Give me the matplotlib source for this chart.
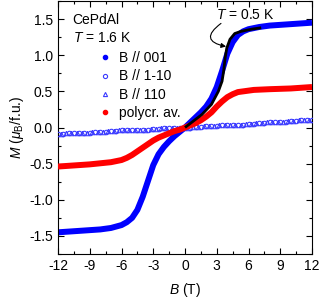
import matplotlib
matplotlib.use('Agg')
import matplotlib.pyplot as plt
import numpy as np
from matplotlib.lines import Line2D

plt.rcParams['font.family'] = ['Liberation Sans', 'DejaVu Sans']
plt.rcParams['font.size'] = 10
plt.rcParams['mathtext.fontset'] = 'custom'
plt.rcParams['mathtext.rm'] = 'Liberation Sans'
plt.rcParams['mathtext.it'] = 'Liberation Sans:italic'
plt.rcParams['axes.unicode_minus'] = False

# B // 001 at T = 1.6 K
b_001 = [-12, -10, -8, -7, -6, -5.5, -5, -4.5, -4, -3.5, -3, -2.5, -2, -1.5, -1, -0.5,
         0, 0.5, 1, 1.5, 2, 2.5, 3, 3.5, 4, 4.5, 5, 5.5, 6, 7, 8, 10, 12]
m_001 = [-1.45, -1.43, -1.41, -1.39, -1.35, -1.31, -1.25, -1.14, -0.96, -0.74, -0.52, -0.37,
         -0.27, -0.19, -0.12, -0.06,
         0.0, 0.07, 0.14, 0.21, 0.29, 0.40, 0.56, 0.78, 1.02, 1.18, 1.28, 1.33, 1.36, 1.39,
         1.41, 1.43, 1.45]

# B // 1-10 and B // 110
b_1m10 = np.arange(-12, 12.01, 0.5)
m_1m10 = [-0.09, -0.09, -0.08, -0.08, -0.07, -0.07, -0.07, -0.06, -0.06, -0.06, -0.05, -0.05,
          -0.04, -0.04, -0.04, -0.03, -0.03, -0.03, -0.02, -0.02, -0.01, -0.01, -0.01, 0.00,
          0.00, 0.00, 0.01, 0.01, 0.02, 0.02, 0.02, 0.03, 0.03, 0.04, 0.04, 0.04, 0.05, 0.05,
          0.06, 0.06, 0.07, 0.07, 0.08, 0.08, 0.09, 0.09, 0.10, 0.10, 0.11]
b_110 = np.arange(-11.75, 11.76, 0.5)
m_110 = [-0.09, -0.08, -0.08, -0.07, -0.07, -0.07, -0.06, -0.06, -0.06, -0.05, -0.05, -0.04,
         -0.04, -0.04, -0.03, -0.03, -0.03, -0.02, -0.02, -0.01, -0.01, -0.01, 0.00, 0.00,
         0.00, 0.01, 0.01, 0.02, 0.02, 0.02, 0.03, 0.03, 0.04, 0.04, 0.04, 0.05, 0.05, 0.06,
         0.06, 0.07, 0.07, 0.08, 0.08, 0.09, 0.09, 0.10, 0.10, 0.11]

# polycrystalline average
b_poly = [-12, -9, -7, -6, -5.5, -5, -4.5, -4, -3.5, -3, -2.5, -2, -1.5, -1, -0.5, 0,
          0.5, 1, 1.5, 2, 2.5, 3, 3.5, 4, 4.5, 5, 5.5, 6.5, 8, 10, 12]
m_poly = [-0.54, -0.51, -0.48, -0.45, -0.42, -0.38, -0.33, -0.28, -0.23, -0.18, -0.14, -0.11,
          -0.08, -0.05, -0.03, 0.0,
          0.03, 0.06, 0.10, 0.15, 0.21, 0.29, 0.36, 0.42, 0.46, 0.49, 0.50, 0.52, 0.53, 0.54, 0.56]

# B // 001 at T = 0.5 K
b_05 = [0, 0.8, 1.6, 2.5, 3.15, 3.5, 3.65, 3.8, 3.95, 4.25, 4.7, 5.3, 6.3, 7.2]
m_05 = [0.0, 0.09, 0.18, 0.32, 0.50, 0.64, 0.78, 0.97, 1.10, 1.22, 1.30, 1.33, 1.36, 1.38]

blue = '#0000ff'
lblue = '#3a3aff'
red = '#ff0000'

fig = plt.figure(figsize=(3.22, 3.02), dpi=100)
ax = fig.add_axes([58 / 322, 48 / 302, 254 / 322, 253 / 302])

ax.plot(b_001, m_001, color=blue, lw=4.3, solid_capstyle='butt', solid_joinstyle='round', zorder=2)
ax.plot(b_1m10, m_1m10, ls='none', marker='o', ms=3.2, mfc='none', mec=lblue, mew=0.8, zorder=3)
ax.plot(b_110, m_110, ls='none', marker='^', ms=3.2, mfc='none', mec=lblue, mew=0.8, zorder=3)
ax.plot(b_poly, m_poly, color=red, lw=4.3, solid_capstyle='butt', solid_joinstyle='round', zorder=4)
ax.plot(b_05, m_05, color='black', lw=2.0, solid_capstyle='butt', solid_joinstyle='round', zorder=5)

ax.set_xlim(-12, 12)
ax.set_ylim(-1.75, 1.75)
ax.set_xticks(np.arange(-12, 12.1, 3))
ax.set_xticks(np.arange(-12, 12.1, 1.5), minor=True)
ax.set_yticks([-1.5, -1.0, -0.5, 0.0, 0.5, 1.0, 1.5])
ax.set_yticks(np.arange(-1.75, 1.76, 0.25), minor=True)
ax.set_yticklabels(['-1.5', '-1.0', '-0.5', '0.0', '0.5', '1.0', '1.5'])
ax.tick_params(which='both', direction='in', top=True, right=True, labelsize=10)
ax.tick_params(which='major', length=4, width=0.8)
ax.tick_params(which='minor', length=2.3, width=0.8)
for sp in ax.spines.values():
    sp.set_linewidth(0.8)

ax.set_xlabel(r'$B$ (T)', fontsize=10, labelpad=6)
ax.set_ylabel(r'$M$ ($\mu_{\rm B}$/f.u.)', fontsize=10, labelpad=2)

ax.text(0.058, 0.925, 'CePdAl', transform=ax.transAxes, fontsize=10, va='center')
ax.text(0.058, 0.852, r'$T$ = 1.6 K', transform=ax.transAxes, fontsize=10, va='center')

handles = [
    Line2D([], [], ls='none', marker='o', ms=3, color=blue),
    Line2D([], [], ls='none', marker='o', ms=3, mfc='none', mec=lblue, mew=0.8),
    Line2D([], [], ls='none', marker='^', ms=3, mfc='none', mec=lblue, mew=0.8),
    Line2D([], [], ls='none', marker='o', ms=3, color=red),
]
labels = ['B // 001', 'B // 1-10', 'B // 110', 'polycr. av.']
ax.legend(handles, labels, loc='upper left', bbox_to_anchor=(0.115, 0.84), frameon=False,
          fontsize=10, handlelength=1.2, handletextpad=0.4, labelspacing=0.3, borderpad=0.2)

ax.text(2.9, 1.56, r'$T$ = 0.5 K', fontsize=10, va='center', ha='left')
ax.annotate('', xy=(3.88, 1.12), xytext=(3.4, 1.44),
            arrowprops=dict(arrowstyle='-|>', connectionstyle='arc3,rad=1.1', lw=0.8,
                            color='black', shrinkA=0, shrinkB=0, mutation_scale=7))

fig.savefig('out.png', dpi=100)
